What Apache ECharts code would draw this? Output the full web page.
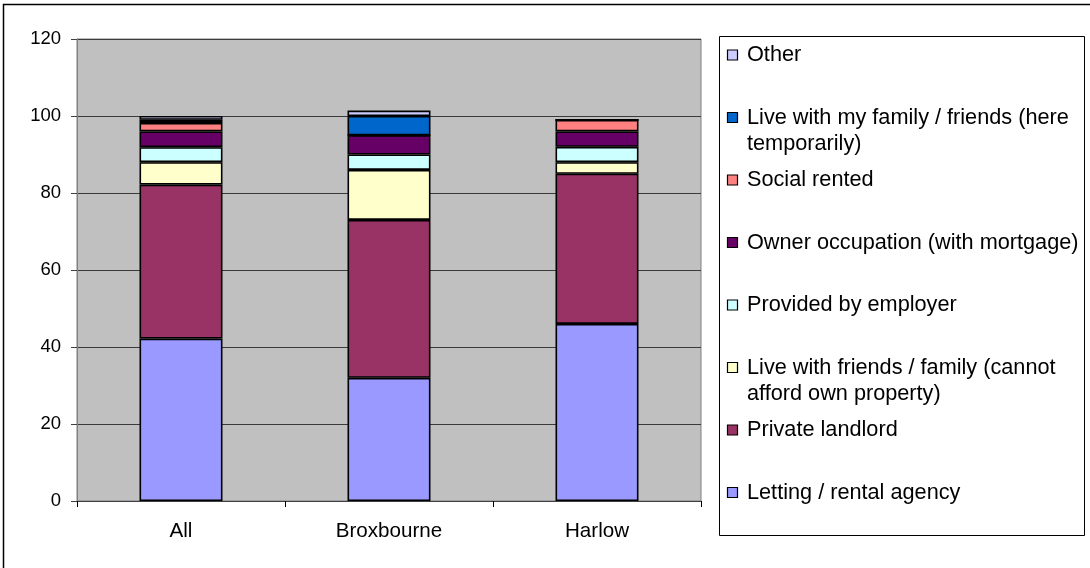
<!DOCTYPE html>
<html>
<head>
<meta charset="utf-8">
<script src="https://cdn.jsdelivr.net/npm/echarts@6/dist/echarts.min.js"></script>
<style>
  html, body { margin: 0; padding: 0; background: #fff; }
  #chart { width: 1090px; height: 568px; }
</style>
</head>
<body>
<div id="chart"></div>
<script>
// categories and stacked series, bottom to top
const categories = ['All', 'Broxbourne', 'Harlow'];
const seriesNames = [
  'Letting / rental agency',
  'Private landlord',
  'Live with friends / family (cannot afford own property)',
  'Provided by employer',
  'Owner occupation (with mortgage)',
  'Social rented',
  'Live with my family / friends (here temporarily)',
  'Other'
];
const lettingAgency = [42.2, 32, 46];
const privateLandlord = [40, 41, 39];
const friendsCannotAfford = [5.8, 13, 3];
const providedByEmployer = [3.9, 4, 4];
const ownerMortgage = [4.1, 5, 4];
const socialRented = [2.2, 0, 3];
const familyTemporary = [0.8, 5, 0];
const other = [1, 1.4, 0];
const seriesValues = [lettingAgency, privateLandlord, friendsCannotAfford, providedByEmployer,
  ownerMortgage, socialRented, familyTemporary, other];
const colors = ['#9999FF', '#993366', '#FFFFCC', '#CCFFFF', '#660066', '#FF8080', '#0066CC', '#CCCCFF'];

// legend labels as wrapped in the box, top to bottom
const legendLines = [
  ['Other'],
  ['Live with my family / friends (here', 'temporarily)'],
  ['Social rented'],
  ['Owner occupation (with mortgage)'],
  ['Provided by employer'],
  ['Live with friends / family (cannot', 'afford own property)'],
  ['Private landlord'],
  ['Letting / rental agency']
];

const FONT = '"Liberation Sans", Arial, sans-serif';
const chart = echarts.init(document.getElementById('chart'));

const series = seriesNames.map((name, i) => ({
  name,
  type: 'bar',
  stack: 'total',
  barWidth: 83,
  data: seriesValues[i],
  itemStyle: { color: colors[i], borderColor: '#000', borderWidth: 1.6 },
  emphasis: { disabled: true }
}));

// legend drawn as graphic: box, swatches, labels
const legendGraphic = [{
  type: 'rect',
  shape: { x: 719.5, y: 36.5, width: 365, height: 499 },
  style: { fill: '#fff', stroke: '#000', lineWidth: 1 }
}];
legendLines.forEach((lines, k) => {
  const idx = seriesNames.length - 1 - k;
  const cy = 55.5 + k * 62.5;
  legendGraphic.push({
    type: 'rect',
    shape: { x: 727.5, y: cy - 5.5, width: 10, height: 10 },
    style: { fill: colors[idx], stroke: '#000', lineWidth: 1.2 }
  });
  legendGraphic.push({
    type: 'text',
    x: 747,
    y: cy - 13,
    style: {
      text: lines.join('\n'),
      font: '21.7px ' + FONT,
      lineHeight: 26,
      fill: '#000',
      verticalAlign: 'top'
    }
  });
});

chart.setOption({
  animation: false,
  textStyle: { fontFamily: FONT },
  grid: {
    left: 77, right: 389, top: 39, bottom: 67,
    show: true, backgroundColor: '#c0c0c0', borderColor: '#808080', borderWidth: 1
  },
  legend: { show: false, data: seriesNames },
  tooltip: { show: false },
  xAxis: {
    type: 'category',
    data: categories,
    axisLine: { lineStyle: { color: '#404040', width: 1 } },
    axisTick: { show: true, length: 6, lineStyle: { color: '#000' } },
    axisLabel: { color: '#000', fontSize: 20.6, margin: 20 }
  },
  yAxis: {
    type: 'value',
    min: 0, max: 120, interval: 20,
    axisLine: { show: true, lineStyle: { color: '#808080' } },
    axisTick: { show: true, length: 6, lineStyle: { color: '#404040' } },
    axisLabel: { color: '#000', fontSize: 18.5, margin: 16 },
    splitLine: { lineStyle: { color: '#3a3a3a', width: 1 } }
  },
  series,
  graphic: [{
    type: 'rect',
    silent: true,
    shape: { x: 3.5, y: 4.5, width: 1200, height: 700 },
    style: { fill: 'none', stroke: '#000', lineWidth: 1.5 }
  }].concat(legendGraphic)
});
</script>
</body>
</html>
